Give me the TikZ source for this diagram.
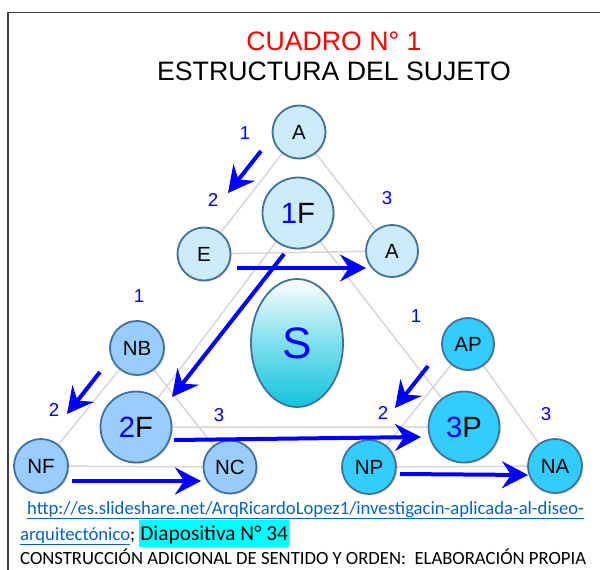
\documentclass[tikz,border=0pt]{standalone}
\usepackage{fontspec}
\setmainfont{Liberation Sans}
\newfontfamily\calib{Carlito}
\usetikzlibrary{arrows.meta,shadows,backgrounds,shapes.geometric}
\definecolor{cTop}{RGB}{204,236,252}
\definecolor{cLeft}{RGB}{153,204,255}
\definecolor{cRight}{RGB}{51,204,255}
\definecolor{cBorder}{RGB}{65,113,156}
\definecolor{cLine}{RGB}{215,215,215}
\definecolor{cLink}{RGB}{5,99,193}
\definecolor{cArrow}{RGB}{0,0,255}
\definecolor{cSbot}{RGB}{18,196,222}
\definecolor{cFrame}{RGB}{64,64,64}
\definecolor{cTitle}{RGB}{255,0,0}
\definecolor{cHi}{RGB}{0,255,255}
\begin{document}
\begin{tikzpicture}[x=1pt,y=-1pt,
  circ/.style={circle, draw=cBorder, line width=1.8pt, minimum size=#1, inner sep=0pt,
    drop shadow={opacity=0.18, shadow xshift=1.5pt, shadow yshift=-1.5pt}},
  small/.style={font=\fontsize{20.5}{22}\selectfont},
  big/.style={font=\fontsize{29.3}{32}\selectfont},
  num/.style={text=cArrow, inner sep=0pt, font=\fontsize{18.67}{20}\selectfont},
  gline/.style={draw=cLine, line width=1.5pt},
  barrow/.style={draw=cArrow, line width=4pt, -{Stealth[length=26pt,width=27pt,inset=9pt]}},
  foot/.style={anchor=base west, inner sep=0pt, font=\calib\fontsize{18.67}{22}\selectfont}]
\useasboundingbox (0,0) rectangle (600,570);
% frame
\draw[cFrame, line width=1.5pt] (8,570) -- (8,12.5) -- (600,12.5);
% titles
\node[anchor=base, inner sep=0pt, text=cTitle, font=\fontsize{26.67}{30}\selectfont] (t1) at (334,50) {CUADRO N° 1};
\node[anchor=base, inner sep=0pt, font=\fontsize{26.67}{30}\selectfont] (t2) at (334,80.5) {ESTRUCTURA DEL SUJETO};
% top group
\node[circ=53pt, fill=cTop, small] (A1) at (299,132) {A};
\node[circ=53pt, fill=cTop, small] (E) at (204,254) {E};
\node[circ=52pt, fill=cTop, small] (A2) at (392,251) {A};
\node[circ=71pt, fill=cTop, big] (F1) at (298,213) {{\color{cArrow}1}F};
% center
\node[ellipse, draw=cBorder, line width=1.8pt, minimum width=92pt, minimum height=128pt,
  top color=white, bottom color=cSbot, middle color=cSbot!55,
  text=cArrow, font=\fontsize{44}{46}\selectfont] (S) at (297,343) {S};
% left group
\node[circ=54pt, fill=cLeft, small] (NB) at (137,348) {NB};
\node[circ=71pt, fill=cLeft, big] (F2) at (136,427) {{\color{cArrow}2}F};
\node[circ=54pt, fill=cLeft, small] (NF) at (41,466) {NF};
\node[circ=53pt, fill=cLeft, small] (NC) at (230,467) {NC};
% right group
\node[circ=52pt, fill=cRight, small] (AP) at (468,344) {AP};
\node[circ=71pt, fill=cRight, big] (P3) at (464,427) {{\color{cArrow}3}P};
\node[circ=54pt, fill=cRight, small] (NP) at (369,467) {NP};
\node[circ=54pt, fill=cRight, small] (NA) at (555,466) {NA};
% gray triangles
\begin{scope}[on background layer]
\draw[gline] (A1.center) -- (E.center) -- (A2.center) -- cycle;
\draw[gline] (F1.center) -- (F2.center) -- (P3.center) -- cycle;
\draw[gline] (NB.center) -- (NF.center) -- (NC.center) -- cycle;
\draw[gline] (AP.center) -- (NP.center) -- (NA.center) -- cycle;
\end{scope}
% number labels
\node[num] (a1) at (245,133) {1};
\node[num] (a2) at (213,200) {2};
\node[num] (a3) at (387,198) {3};
\node[num] (b1) at (139,296) {1};
\node[num] (b2) at (54,410) {2};
\node[num] (b3) at (219,415) {3};
\node[num] (c1) at (416,316) {1};
\node[num] (c2) at (383,413) {2};
\node[num] (c3) at (546,414) {3};
% arrow end points
\coordinate (p1s) at (261,151); \coordinate (p1e) at (228,193);
\coordinate (p2s) at (237,268); \coordinate (p2e) at (366,268);
\coordinate (p3s) at (284,254); \coordinate (p3e) at (172,397);
\coordinate (p4s) at (100,372); \coordinate (p4e) at (67,414);
\coordinate (p5s) at (72,481);  \coordinate (p5e) at (201,481);
\coordinate (p6s) at (174,440); \coordinate (p6e) at (421,437);
\coordinate (p7s) at (428,366); \coordinate (p7e) at (395,408);
\coordinate (p8s) at (400,474); \coordinate (p8e) at (528,475);
\draw[barrow] (p1s) -- (p1e);
\draw[barrow] (p2s) -- (p2e);
\draw[barrow] (p3s) -- (p3e);
\draw[barrow] (p4s) -- (p4e);
\draw[barrow] (p5s) -- (p5e);
\draw[barrow] (p6s) -- (p6e);
\draw[barrow] (p7s) -- (p7e);
\draw[barrow] (p8s) -- (p8e);
% footer
\node[foot] (f1) at (27,514) {\color{cLink}\underline{http://es.slideshare.net/ArqRicardoLopez1/investigacin-aplicada-al-diseo-}};
\node[foot] (f2) at (20,540) {{\color{cLink}\underline{arquitectónico}}; {\fboxsep=1pt\colorbox{cHi}{\rule[-6pt]{0pt}{25pt}\fontsize{21.33}{24}\selectfont Diapositiva N° 34}}};
\node[foot] (f3) at (20,564) {CONSTRUCCIÓN ADICIONAL DE SENTIDO Y ORDEN:\ \ ELABORACIÓN PROPIA};
\end{tikzpicture}
\end{document}
